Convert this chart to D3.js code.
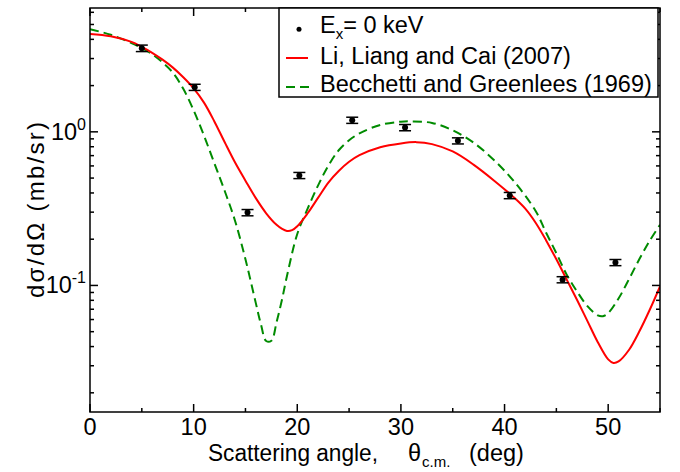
<!DOCTYPE html>
<html><head><meta charset="utf-8">
<script src="https://cdn.jsdelivr.net/npm/d3@7"></script>
<style>body{margin:0;background:#fff}svg{display:block;font-family:"Liberation Sans",Arial,Helvetica,sans-serif}</style>
</head><body><svg id="c" width="680" height="472"></svg>
<script>
// Experimental data (E_x = 0 keV)
const dataAngle = [5.0, 10.1, 15.2, 20.2, 25.3, 30.4, 35.5, 40.5, 45.6, 50.7];
const dataValue = [3.50, 1.95, 0.298, 0.52, 1.19, 1.066, 0.874, 0.385, 0.109, 0.141];
const dataError = [0.17, 0.09, 0.014, 0.024, 0.055, 0.05, 0.04, 0.018, 0.005, 0.0065];

// Li, Liang and Cai (2007)
const liAngle = [0,2,4,5,6,7,8,9,10,11,12,13,14,15,16,17,18,18.5,19,19.5,20,21,22,23,24,25,26,28,30,31.5,33,35,37,39,41,42,43,44,45,46,47,48,49,50,50.5,51,52,53,54,55];
const liValue = [4.34,4.19,3.85,3.57,3.27,2.95,2.618,2.265,1.919,1.549,1.169,0.855,0.631,0.481,0.370,0.295,0.248,0.2344,0.2265,0.229,0.2427,0.295,0.3715,0.4677,0.556,0.638,0.705,0.794,0.841,0.857,0.832,0.745,0.612,0.481,0.369,0.316,0.2559,0.1972,0.1479,0.1091,0.0804,0.0586,0.0427,0.033,0.0313,0.032,0.038,0.0501,0.0692,0.0986];

// Becchetti and Greenlees (1969)
const bgAngle = [0,2,4,5,6,7,8,9,10,11,12,13,14,15,16,16.5,17,17.5,18,18.5,19,20,21,22,23,24,25,26,28,30,31,33,35,37,39,41,43,44,45,46,47,48,49,49.5,50,51,52,53,54,55];
const bgValue = [4.656,4.285,3.784,3.508,3.199,2.831,2.427,1.905,1.380,0.944,0.624,0.412,0.263,0.148,0.0767,0.0556,0.0435,0.0437,0.0575,0.0794,0.1148,0.2163,0.3162,0.4467,0.6026,0.7586,0.881,0.977,1.109,1.164,1.169,1.143,1.023,0.851,0.653,0.468,0.3055,0.2213,0.1622,0.1175,0.0912,0.0733,0.0638,0.0631,0.0661,0.0822,0.1096,0.1479,0.195,0.2483];

const xTicks = [0,10,20,30,40,50];
const xMinor = [5,15,25,35,45,55];
const yMajor = [0.1, 1];
const yMinor = [0.02,0.03,0.04,0.05,0.06,0.07,0.08,0.09,0.2,0.3,0.4,0.5,0.6,0.7,0.8,0.9,2,3,4,5,6];
const yLabels = ["-1","0"];

const L=90, R=660, T=8, B=412;
const svg = d3.select("#c");
const x = d3.scaleLinear().domain([0,55]).range([L,R]);
const y = d3.scaleLog().domain([0.015,6.4]).range([B,T]);
const FS = 23.5;

svg.append("defs").append("clipPath").attr("id","clip").append("rect")
  .attr("x",L).attr("y",T).attr("width",R-L).attr("height",B-T);

// curves
const line = (ax, vals) => d3.line().curve(d3.curveCatmullRom.alpha(0.5))
  .x((d,i)=>x(ax[i])).y(d=>y(d))(vals);
const g = svg.append("g").attr("clip-path","url(#clip)");
g.append("path").attr("d", line(bgAngle,bgValue)).attr("fill","none")
  .attr("stroke","#008b00").attr("stroke-width",2).attr("stroke-dasharray","9,5");
g.append("path").attr("d", line(liAngle,liValue)).attr("fill","none")
  .attr("stroke","#ff0000").attr("stroke-width",2);

// data with error bars
const pts = svg.append("g");
dataAngle.forEach((a,i)=>{
  const cx = x(a), v = dataValue[i], e = dataError[i];
  const y1 = y(v+e), y2 = y(v-e);
  pts.append("line").attr("x1",cx).attr("x2",cx).attr("y1",y1).attr("y2",y2).attr("stroke","#000").attr("stroke-width",1.5);
  [y1,y2].forEach(yy=>pts.append("line").attr("x1",cx-6).attr("x2",cx+6).attr("y1",yy).attr("y2",yy).attr("stroke","#000").attr("stroke-width",1.5));
  pts.append("circle").attr("cx",cx).attr("cy",y(v)).attr("r",3).attr("fill","#000");
});

// axes frame and ticks
const ax = svg.append("g").attr("stroke","#000").attr("stroke-width",1.5);
ax.append("rect").attr("x",L).attr("y",T).attr("width",R-L).attr("height",B-T).attr("fill","none");
xTicks.forEach(t=>{
  ax.append("line").attr("x1",x(t)).attr("x2",x(t)).attr("y1",B).attr("y2",B-8);
  ax.append("line").attr("x1",x(t)).attr("x2",x(t)).attr("y1",T).attr("y2",T+8);
});
xMinor.forEach(t=>{
  ax.append("line").attr("x1",x(t)).attr("x2",x(t)).attr("y1",B).attr("y2",B-4);
  ax.append("line").attr("x1",x(t)).attr("x2",x(t)).attr("y1",T).attr("y2",T+4);
});
yMajor.forEach(t=>{
  ax.append("line").attr("x1",L).attr("x2",L+8).attr("y1",y(t)).attr("y2",y(t));
  ax.append("line").attr("x1",R).attr("x2",R-8).attr("y1",y(t)).attr("y2",y(t));
});
yMinor.forEach(t=>{
  ax.append("line").attr("x1",L).attr("x2",L+4).attr("y1",y(t)).attr("y2",y(t));
  ax.append("line").attr("x1",R).attr("x2",R-4).attr("y1",y(t)).attr("y2",y(t));
});

// tick labels
xTicks.forEach(t=>{
  svg.append("text").attr("x",x(t)).attr("y",435).attr("text-anchor","middle")
    .attr("font-size",FS).text(t);
});
yMajor.forEach((t,i)=>{
  const tx = svg.append("text").attr("x",86).attr("y",y(t)+8).attr("text-anchor","end").attr("font-size",FS);
  tx.append("tspan").text("10");
  tx.append("tspan").attr("font-size",16).attr("dy",-10).text(yLabels[i]);
});

// axis titles
svg.append("text").attr("x",208).attr("y",461).attr("font-size",FS)
  .attr("textLength",170).attr("lengthAdjust","spacingAndGlyphs").text("Scattering angle,");
svg.append("text").attr("x",408).attr("y",461).attr("font-size",FS).text("θ");
svg.append("text").attr("x",422).attr("y",467).attr("font-size",15).text("c.m.");
svg.append("text").attr("x",469).attr("y",461).attr("font-size",FS).text("(deg)");

svg.append("text").attr("transform",`translate(44,${(T+B)/2}) rotate(-90)`)
  .attr("text-anchor","middle").attr("font-size",24)
  .attr("textLength",176).attr("lengthAdjust","spacing").text("dσ/dΩ (mb/sr)");

// legend
const lg = svg.append("g");
lg.append("rect").attr("x",279).attr("y",T).attr("width",379).attr("height",89)
  .attr("fill","#fff").attr("stroke","#000").attr("stroke-width",1.5);
const rows = [33.3, 63.5, 92];
lg.append("circle").attr("cx",299).attr("cy",rows[0]-4).attr("r",2.5).attr("fill","#000");
const t1 = lg.append("text").attr("x",320).attr("y",rows[0]).attr("font-size",FS);
t1.append("tspan").text("E");
t1.append("tspan").attr("font-size",15).attr("dy",6).text("x");
t1.append("tspan").attr("dy",-6).text("= 0 keV");
lg.append("line").attr("x1",286).attr("x2",308).attr("y1",rows[1]-5.5).attr("y2",rows[1]-5.5)
  .attr("stroke","#ff0000").attr("stroke-width",2);
lg.append("text").attr("x",320).attr("y",rows[1]).attr("font-size",FS).text("Li, Liang and Cai (2007)");
lg.append("line").attr("x1",286).attr("x2",310).attr("y1",rows[2]-5).attr("y2",rows[2]-5)
  .attr("stroke","#008b00").attr("stroke-width",2).attr("stroke-dasharray","9,5");
lg.append("text").attr("x",320).attr("y",rows[2]).attr("font-size",FS).text("Becchetti and Greenlees (1969)");
</script></body></html>
